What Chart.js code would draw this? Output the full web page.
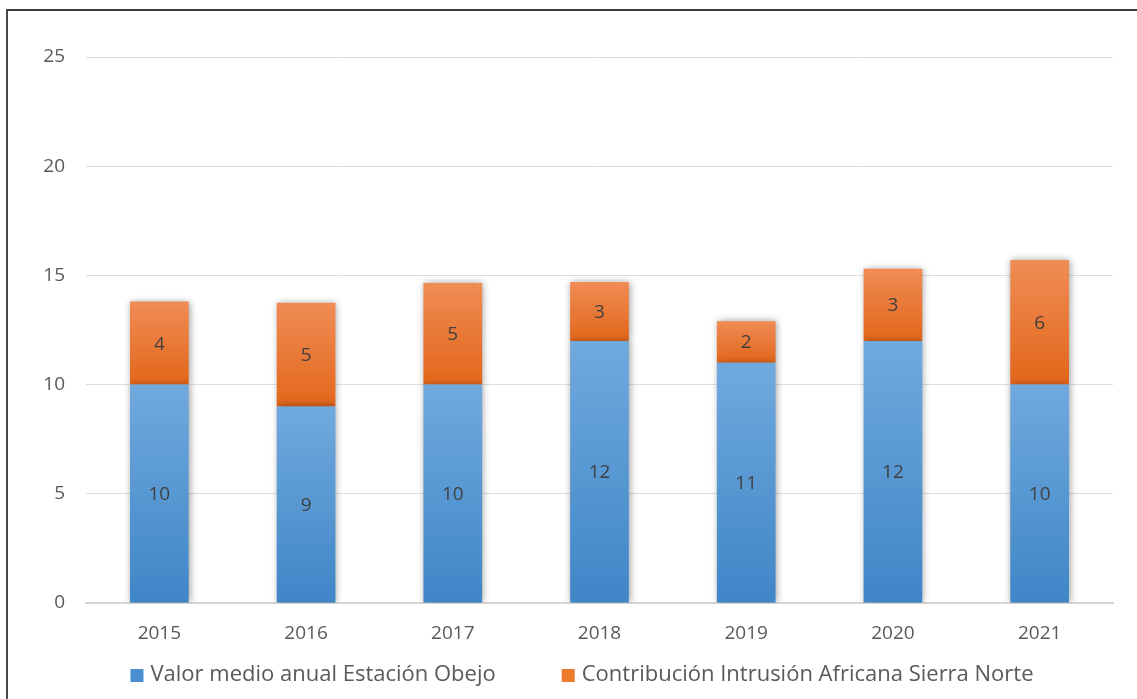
<!DOCTYPE html>
<html>
<head>
<meta charset="utf-8">
<script src="https://cdn.jsdelivr.net/npm/chart.js@4.4.1/dist/chart.umd.min.js"></script>
<style>
  html, body { margin: 0; padding: 0; background: #ffffff; }
  #wrap { position: relative; width: 1137px; height: 699px; overflow: hidden; }
  #frame { position: absolute; left: 6px; top: 9px; width: 1140px; height: 700px;
           border-top: 2px solid #3c3c3c; border-left: 2px solid #4a4a4a; box-sizing: border-box; pointer-events: none; }
  canvas { position: absolute; left: 0; top: 0; }
</style>
</head>
<body>
<div id="wrap">
  <canvas id="c" width="1137" height="699"></canvas>
  <div id="frame"></div>
</div>
<script>
const categories = ['2015', '2016', '2017', '2018', '2019', '2020', '2021'];
const seriesNames = ['Valor medio anual Estación Obejo', 'Contribución Intrusión Africana Sierra Norte'];
const valorMedio = [10, 9, 10, 12, 11, 12, 10];
const contribucion = [3.8, 4.75, 4.65, 2.7, 1.9, 3.3, 5.7];
const yTicks = [0, 5, 10, 15, 20, 25];

const FONT = '"Open Sans", Lato, sans-serif';
const TEXT = '#595959';

function segGradient(ctx, base, top, cTop, cBot) {
  const chart = ctx.chart;
  if (!chart.chartArea || !chart.scales.y) return cBot;
  const y = chart.scales.y;
  const yTop = y.getPixelForValue(top);
  const yBot = y.getPixelForValue(base);
  if (!isFinite(yTop) || !isFinite(yBot) || yTop === yBot) return cBot;
  const g = chart.ctx.createLinearGradient(0, yTop, 0, yBot);
  g.addColorStop(0, cTop);
  g.addColorStop(1, cBot);
  return g;
}

const shadowPlugin = {
  id: 'barShadow',
  beforeDatasetsDraw(chart) {
    const c = chart.ctx;
    c.save();
    c.shadowColor = 'rgba(0,0,0,0.4)';
    c.shadowBlur = 7;
    c.shadowOffsetX = 1;
    c.shadowOffsetY = 0;
  },
  afterDatasetsDraw(chart) {
    chart.ctx.restore();
    const c = chart.ctx;
    c.save();
    c.font = '19px ' + FONT;
    c.fillStyle = '#404040';
    c.textAlign = 'center';
    c.textBaseline = 'middle';
    chart.data.datasets.forEach((ds, di) => {
      const meta = chart.getDatasetMeta(di);
      meta.data.forEach((bar, i) => {
        const v = ds.data[i];
        const cy = (bar.y + bar.base) / 2;
        c.fillText(String(Math.round(v)), bar.x, cy + 1);
      });
    });
    c.restore();
  }
};

const legendPlugin = {
  id: 'customLegend',
  afterDraw(chart) {
    const c = chart.ctx;
    c.save();
    c.font = '22px ' + FONT;
    c.textBaseline = 'middle';
    const box = 13, gapText = 7, gapItem = 66;
    const items = chart.data.datasets.map(ds => ({ label: ds.label, color: ds.legendColor }));
    let total = 0;
    items.forEach((it, i) => {
      it.w = c.measureText(it.label).width;
      total += box + gapText + it.w + (i < items.length - 1 ? gapItem : 0);
    });
    let x = 582 - total / 2;
    const cy = 675;
    items.forEach(it => {
      c.fillStyle = it.color;
      c.fillRect(x, cy - 6, box, box);
      x += box + gapText;
      c.fillStyle = TEXT;
      c.textAlign = 'left';
      c.fillText(it.label, x, cy);
      x += it.w + gapItem;
    });
    c.restore();
  }
};

new Chart(document.getElementById('c'), {
  type: 'bar',
  data: {
    labels: categories,
    datasets: [
      {
        label: seriesNames[0],
        data: valorMedio,
        legendColor: '#4a8fd0',
        backgroundColor: (ctx) => segGradient(ctx, 0, valorMedio[ctx.dataIndex], '#70a9de', '#3f86c7'),
        borderWidth: 0,
        barPercentage: 0.8,
        categoryPercentage: 0.5
      },
      {
        label: seriesNames[1],
        data: contribucion,
        legendColor: '#ee7a2e',
        backgroundColor: (ctx) => segGradient(ctx, valorMedio[ctx.dataIndex], valorMedio[ctx.dataIndex] + contribucion[ctx.dataIndex], '#f08c55', '#e2661a'),
        borderWidth: 0,
        barPercentage: 0.8,
        categoryPercentage: 0.5
      }
    ]
  },
  options: {
    responsive: false,
    animation: false,
    devicePixelRatio: 1,
    layout: { padding: { top: 57, right: 24, bottom: 46, left: 0 } },
    plugins: {
      legend: { display: false },
      tooltip: { enabled: false }
    },
    scales: {
      x: {
        stacked: true,
        grid: { display: false },
        border: { display: true, color: '#d4d4d4', width: 2 },
        ticks: { font: { family: FONT, size: 19 }, color: TEXT, padding: 11 },
        afterFit(scale) { scale.height = 50; }
      },
      y: {
        stacked: true,
        min: 0,
        max: 25,
        afterBuildTicks(scale) { scale.ticks = yTicks.map(v => ({ value: v })); },
        grid: { color: '#dedede', lineWidth: 1, drawTicks: false },
        border: { display: false },
        ticks: { font: { family: FONT, size: 19 }, color: TEXT, padding: 21 },
        afterFit(scale) { scale.width = 86; }
      }
    }
  },
  plugins: [shadowPlugin, legendPlugin]
});
</script>
</body>
</html>
